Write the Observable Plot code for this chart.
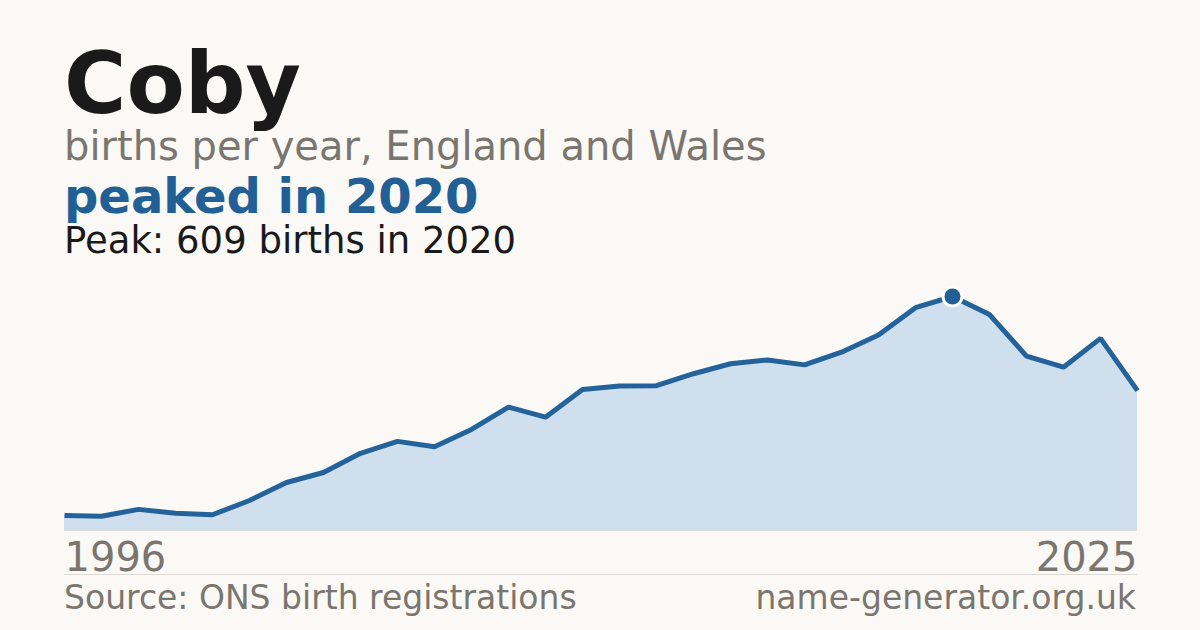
<!DOCTYPE html>
<html>
<head>
<meta charset="utf-8">
<script src="https://cdn.jsdelivr.net/npm/d3@7"></script>
<script src="https://cdn.jsdelivr.net/npm/@observablehq/plot@0.6"></script>
<style>
  html, body { margin: 0; padding: 0; background: #faf9f5; }
  body { width: 1200px; height: 630px; position: relative; overflow: hidden; font-family: "DejaVu Sans", sans-serif; }
  .t { position: absolute; left: 64px; line-height: 1; white-space: nowrap; }
  #title { top: 41px; font-size: 85px; font-weight: bold; color: #1a1a1a; }
  #sub { top: 126px; font-size: 40px; color: #7a766f; }
  #peaked { top: 172px; font-size: 48px; font-weight: bold; color: #215f95; }
  #peak { top: 222px; font-size: 37px; color: #1a1a1a; }
  #chart { position: absolute; left: 0; top: 0; }
  #rule { position: absolute; left: 64px; width: 1073px; top: 574px; height: 1px; background: #dddad4; }
  #src { top: 581px; font-size: 33px; color: #7a766f; }
  #site { top: 581px; left: auto; right: 64px; font-size: 33px; color: #7a766f; }
</style>
</head>
<body>
<div class="t" id="title">Coby</div>
<div class="t" id="sub">births per year, England and Wales</div>
<div class="t" id="peaked">peaked in 2020</div>
<div class="t" id="peak">Peak: 609 births in 2020</div>
<div id="chart"></div>
<div id="rule"></div>
<div class="t" id="src">Source: ONS birth registrations</div>
<div class="t" id="site">name-generator.org.uk</div>
<script>
const years = [1996,1997,1998,1999,2000,2001,2002,2003,2004,2005,2006,2007,2008,2009,2010,2011,2012,2013,2014,2015,2016,2017,2018,2019,2020,2021,2022,2023,2024,2025];
const births = [39,37,55,45,41,78,125,151,201,232,218,263,321,295,367,376,377,408,434,444,431,464,509,580,609,562,454,425,500,364];
const peakYear = 2020;
const peakValue = 609;
const endLabels = [1996, 2025];

const data = years.map((y, i) => ({year: y, births: births[i]}));
const peak = [{year: peakYear, births: peakValue}];
const labels = endLabels.map((y, i) => ({year: y, anchor: i === 0 ? "start" : "end"}));

const chart = Plot.plot({
  width: 1200,
  height: 630,
  marginLeft: 64,
  marginRight: 63,
  marginTop: 296,
  marginBottom: 100,
  style: {background: "transparent", fontFamily: "DejaVu Sans, sans-serif", overflow: "visible"},
  x: {domain: [years[0], years[years.length - 1]], axis: null},
  y: {domain: [0, peakValue], axis: null},
  marks: [
    Plot.areaY(data, {x: "year", y: "births", fill: "#cfdfee"}),
    Plot.ruleY([0], {stroke: "#dcdcd8", strokeWidth: 1}),
    Plot.lineY(data, {x: "year", y: "births", stroke: "#23629b", strokeWidth: 5, strokeLinecap: "butt", strokeLinejoin: "miter"}),
    Plot.dot(peak, {x: "year", y: "births", r: 9.5, fill: "#215f95", stroke: "#ffffff", strokeWidth: 3}),
    Plot.text(labels.filter(d => d.anchor === "start"), {x: "year", y: 0, text: d => String(d.year), textAnchor: "start", lineAnchor: "bottom", dy: 40, fontSize: 40, fill: "#7a766f"}),
    Plot.text(labels.filter(d => d.anchor === "end"), {x: "year", y: 0, text: d => String(d.year), textAnchor: "end", lineAnchor: "bottom", dy: 40, fontSize: 40, fill: "#7a766f"})
  ]
});
document.getElementById("chart").appendChild(chart);
</script>
</body>
</html>
